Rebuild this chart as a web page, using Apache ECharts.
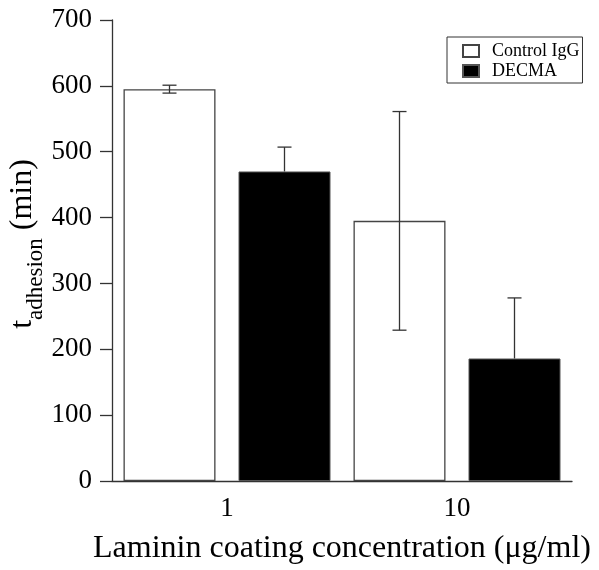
<!DOCTYPE html>
<html>
<head>
<meta charset="utf-8">
<script src="https://cdn.jsdelivr.net/npm/echarts@6/dist/echarts.min.js"></script>
<style>
  html, body { margin: 0; padding: 0; background: #fff; }
  #chart { width: 599px; height: 570px; }
</style>
</head>
<body>
<div id="chart"></div>
<script>
var categories = ['1', '10'];
var controlVals = [595, 395];
var controlErr = [6, 166];
var decmaVals = [470, 186];
var decmaErr = [37, 92];
var yTicks = [0, 100, 200, 300, 400, 500, 600, 700];

var serif = "'Liberation Serif', 'Times New Roman', serif";
var lineCol = '#333';

// error bar drawn at the center of a bar, offset inside the category band
function errRender(vals, errs, side, upperOnly) {
    return function (params, api) {
        var i = api.value(0);
        var band = api.size([1, 0])[0];
        var x = api.coord([i, 0])[0] + side * band * 0.25;
        var top = api.coord([i, vals[i] + errs[i]])[1];
        var bot = api.coord([i, upperOnly ? vals[i] : vals[i] - errs[i]])[1];
        var cap = 7;
        var st = { stroke: lineCol, lineWidth: 1.3 };
        var kids = [
            { type: 'line', shape: { x1: x, y1: top, x2: x, y2: bot }, style: st },
            { type: 'line', shape: { x1: x - cap, y1: top, x2: x + cap, y2: top }, style: st }
        ];
        if (!upperOnly) {
            kids.push({ type: 'line', shape: { x1: x - cap, y1: bot, x2: x + cap, y2: bot }, style: st });
        }
        return { type: 'group', children: kids };
    };
}

var chart = echarts.init(document.getElementById('chart'));
var option = {
    animation: false,
    grid: { left: 112, right: 27, top: 20, bottom: 89, outerBoundsMode: 'none', containLabel: false },
    legend: {
        orient: 'vertical',
        left: 447,
        top: 37,
        padding: [5, 3, 3, 15],
        icon: 'rect',
        itemWidth: 16,
        itemHeight: 12,
        itemGap: 2,
        borderColor: lineCol,
        borderWidth: 1,
        textStyle: { fontFamily: serif, fontSize: 18, color: '#000', padding: [0, 0, 0, 8] },
        data: ['Control IgG', 'DECMA']
    },
    xAxis: {
        type: 'category',
        data: categories,
        name: 'Laminin coating concentration (\u03bcg/ml)',
        nameLocation: 'middle',
        nameGap: 52,
        nameMoveOverlap: false,
        nameTextStyle: { fontFamily: serif, fontSize: 32, color: '#000' },
        axisLine: { lineStyle: { color: lineCol, width: 1.3 } },
        axisTick: { inside: false, length: 13, lineStyle: { color: lineCol, width: 1.3 } },
        axisLabel: { fontFamily: serif, fontSize: 27, color: '#000', margin: 14 }
    },
    yAxis: {
        type: 'value',
        min: yTicks[0],
        max: yTicks[yTicks.length - 1],
        interval: 100,
        name: '{t|t}{s|adhesion}{t| (min)}',
        nameLocation: 'middle',
        nameGap: 65,
        nameMoveOverlap: false,
        nameTextStyle: {
            padding: [0, 0, 0, 13],
            rich: {
                t: { fontFamily: serif, fontSize: 32, color: '#000', lineHeight: 32, verticalAlign: 'top' },
                s: { fontFamily: serif, fontSize: 23, color: '#000', lineHeight: 40, verticalAlign: 'bottom' }
            }
        },
        splitLine: { show: false },
        axisLine: { show: true, lineStyle: { color: lineCol, width: 1.3 } },
        axisTick: { show: true, inside: false, length: 12, lineStyle: { color: lineCol, width: 1.3 } },
        axisLabel: { fontFamily: serif, fontSize: 27, color: '#000', margin: 20 }
    },
    series: [
        {
            name: 'Control IgG',
            type: 'bar',
            data: controlVals,
            barWidth: '40%',
            barGap: '25%',
            itemStyle: { color: '#fff', borderColor: '#444', borderWidth: 1.3 }
        },
        {
            name: 'DECMA',
            type: 'bar',
            data: decmaVals,
            barWidth: '40%',
            barGap: '25%',
            itemStyle: { color: '#000', borderColor: '#555', borderWidth: 1 }
        },
        {
            type: 'custom',
            renderItem: errRender(controlVals, controlErr, -1, false),
            data: categories.map(function (c, i) { return [i]; }),
            z: 5,
            silent: true
        },
        {
            type: 'custom',
            renderItem: errRender(decmaVals, decmaErr, 1, true),
            data: categories.map(function (c, i) { return [i]; }),
            z: 5,
            silent: true
        }
    ]
};
chart.setOption(option);
</script>
</body>
</html>
